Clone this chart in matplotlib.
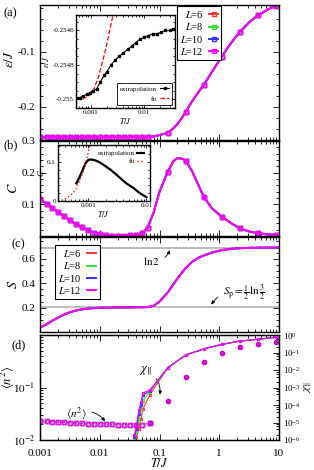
import math
import matplotlib
matplotlib.use('Agg')
import matplotlib.pyplot as plt
import matplotlib.ticker as ticker

plt.rcParams['font.family'] = 'serif'
plt.rcParams['font.serif'] = ['Liberation Serif', 'DejaVu Serif']
plt.rcParams['mathtext.fontset'] = 'stix'
plt.rcParams['axes.unicode_minus'] = False
plt.rcParams['font.size'] = 8

sizes = [6, 8, 10, 12]
colors = ['#ff3030', '#30e030', '#3030ff', '#ff00ff']

# temperature grid shared by panels (a)-(c)
T_grid = [0.001, 0.0013, 0.0016, 0.002, 0.0025, 0.0032, 0.004, 0.005, 0.0063, 0.008,
          0.01, 0.0126, 0.016, 0.02, 0.025, 0.032, 0.04, 0.05, 0.063, 0.08,
          0.1, 0.1375, 0.17, 0.2, 0.24, 0.275, 0.35, 0.45, 0.55, 0.75,
          1.1, 1.6, 2.2, 3.2, 4.4, 6.5, 8.8, 10]
mark_idx = list(range(19)) + [21, 25, 28, 30, 32, 34, 36]

energy = [-0.25499, -0.25495, -0.2549, -0.25484, -0.2548, -0.25475, -0.25472, -0.2547,
          -0.25468, -0.25465, -0.25464, -0.25463, -0.25462, -0.25461, -0.2546, -0.2546,
          -0.2546, -0.2546, -0.2545, -0.2535, -0.251, -0.2467, -0.239, -0.231, -0.219,
          -0.209, -0.19, -0.173, -0.16, -0.137, -0.1085, -0.083, -0.064, -0.046, -0.034,
          -0.023, -0.0164, -0.0145]

heat = [0.116, 0.101, 0.089, 0.076, 0.063, 0.049, 0.037, 0.027, 0.018, 0.011,
        0.006, 0.003, 0.0015, 0.001, 0.001, 0.002, 0.004, 0.008, 0.025, 0.075,
        0.14, 0.203, 0.236, 0.246, 0.244, 0.238, 0.205, 0.16, 0.124, 0.088,
        0.061, 0.04, 0.024, 0.014, 0.009, 0.005, 0.004, 0.003]

entropy = [0.035, 0.065, 0.092, 0.118, 0.142, 0.163, 0.176, 0.186, 0.192, 0.196,
           0.199, 0.2, 0.201, 0.202, 0.202, 0.202, 0.203, 0.203, 0.205, 0.215,
           0.25, 0.325, 0.39, 0.44, 0.49, 0.525, 0.575, 0.61, 0.628, 0.652,
           0.672, 0.683, 0.688, 0.691, 0.692, 0.693, 0.693, 0.693]

# inset (a)
T_ins_a = [0.00056, 0.00063, 0.00073, 0.00084, 0.00097, 0.0011, 0.0013, 0.0015, 0.0018,
           0.002, 0.0024, 0.0029, 0.0034, 0.0041, 0.0049, 0.0059, 0.007, 0.0084, 0.01,
           0.012, 0.0145, 0.0173, 0.0207, 0.0248, 0.03, 0.035]
e_ins_a = [-0.25499, -0.25499, -0.25498, -0.25497, -0.25496, -0.25495, -0.25494, -0.2549,
           -0.25486, -0.25484, -0.2548, -0.25477, -0.25475, -0.25473, -0.25471, -0.25469,
           -0.25467, -0.25465, -0.25464, -0.25463, -0.25462, -0.25462, -0.25461, -0.2546,
           -0.2546, -0.25459]
T_fit_a = [0.00053, 0.0007, 0.0009, 0.001, 0.00112, 0.00125, 0.0014, 0.0016, 0.0018,
           0.002, 0.0022, 0.0025, 0.0028]
e_fit_a = [-0.255, -0.255, -0.25498, -0.25497, -0.25495, -0.25491, -0.25487, -0.2548,
           -0.25474, -0.25468, -0.25462, -0.25454, -0.25446]

# inset (b)
T_ins_b = [0.00062, 0.0007, 0.0008, 0.0009, 0.001, 0.00114, 0.0013, 0.0015, 0.0018,
           0.0021, 0.0024, 0.003, 0.0037, 0.0045, 0.006, 0.0075, 0.01]
c_ins_b = [0.045, 0.06, 0.08, 0.097, 0.105, 0.106, 0.104, 0.1, 0.093, 0.086, 0.08,
           0.068, 0.056, 0.045, 0.033, 0.021, 0.0095]
T_fit_b = [0.0003, 0.00035, 0.0004, 0.00045, 0.0005, 0.0006, 0.0007, 0.0008, 0.0009,
           0.001, 0.00106]
c_fit_b = [0.0, 0.002, 0.005, 0.01, 0.015, 0.028, 0.05, 0.072, 0.097, 0.125, 0.142]

# panel (d)
T_n2 = [0.001, 0.0013, 0.0016, 0.002, 0.0025, 0.0032, 0.004, 0.005, 0.0063, 0.008,
        0.01, 0.0126, 0.016, 0.02, 0.025, 0.032, 0.04, 0.05, 0.06875]
n2_low = [0.0233, 0.0228, 0.0224, 0.022, 0.0217, 0.0214, 0.0211, 0.0208, 0.0205, 0.0203,
          0.0201, 0.0199, 0.0198, 0.0197, 0.0196, 0.0195, 0.0195, 0.0196, 0.021]
T_n2_high = [0.06875, 0.1375, 0.275, 0.55, 1.1, 2.2, 4.4, 8.8]
n2_high = [0.021, 0.055, 0.16, 0.31, 0.46, 0.58, 0.68, 0.72]

T_chi = [0.038, 0.041, 0.045, 0.049, 0.053, 0.06875, 0.1375, 0.275, 0.55, 1.1, 2.2, 4.4, 8.8]
chi_by_L = {
    6: [1e-6, 1.5e-6, 4e-6, 1.5e-5, 6e-5, 3.7e-4, 0.0135, 0.072, 0.16, 0.29, 0.45, 0.57, 0.74],
    8: [1e-6, 2.5e-6, 1.2e-5, 5e-5, 1.8e-4, 5.7e-4, 0.0135, 0.072, 0.16, 0.29, 0.45, 0.57, 0.74],
    10: [1.5e-6, 4e-6, 3e-5, 1e-4, 3.5e-4, 6.5e-4, 0.0135, 0.072, 0.16, 0.29, 0.45, 0.57, 0.74],
    12: [2e-6, 6e-6, 5e-5, 1.5e-4, 5e-4, 7e-4, 0.0135, 0.072, 0.16, 0.29, 0.45, 0.57, 0.74],
}

W, H = 314, 470
fig = plt.figure(figsize=(W / 100, H / 100), dpi=100)


def rect(x0, y0, x1, y1):
    return [x0 / W, 1 - y1 / H, (x1 - x0) / W, (y1 - y0) / H]


def style(ax):
    ax.tick_params(which='both', direction='in', top=True, right=True, width=0.6)
    ax.tick_params(which='major', length=4)
    ax.tick_params(which='minor', length=2)
    for s in ax.spines.values():
        s.set_linewidth(1.0)


def xaxis_main(ax, labels=False):
    ax.set_xscale('log')
    ax.set_xlim(0.001, 10)
    ax.xaxis.set_major_locator(ticker.LogLocator(base=10, numticks=10))
    ax.xaxis.set_minor_locator(ticker.LogLocator(base=10, subs=range(2, 10), numticks=10))
    if labels:
        ax.xaxis.set_major_formatter(ticker.FuncFormatter(lambda v, p: '%g' % v))
    else:
        ax.xaxis.set_major_formatter(ticker.NullFormatter())
    ax.xaxis.set_minor_formatter(ticker.NullFormatter())


def arrow(rad):
    return dict(arrowstyle='-|>', color='k', lw=0.6, mutation_scale=5,
                connectionstyle='arc3,rad=%g' % rad)


ax_a = fig.add_axes(rect(40, 5, 279, 140))
ax_b = fig.add_axes(rect(40, 141, 279, 236))
ax_c = fig.add_axes(rect(40, 237, 279, 332))
ax_d = fig.add_axes(rect(40, 335, 279, 440))

# (a) energy
for L, c in zip(sizes, colors):
    ax_a.plot(T_grid, energy, color=c, lw=1.4, marker='s', ms=2.5, mfc='none', mew=1.0,
              markevery=mark_idx, label=r'$L$=%d' % L)
xaxis_main(ax_a)
ax_a.set_ylim(-0.26, -0.015)
ax_a.yaxis.set_major_locator(ticker.FixedLocator([-0.1, -0.2]))
ax_a.yaxis.set_minor_locator(ticker.MultipleLocator(0.02))
ax_a.set_ylabel(r'$\varepsilon/J$', fontsize=9.5)
ax_a.yaxis.set_label_coords(-0.1, 0.6)
style(ax_a)
leg = ax_a.legend(loc='upper left', bbox_to_anchor=(0.573, 0.993), borderaxespad=0,
                  fontsize=7.5, markerfirst=False, handlelength=0.9, handletextpad=0.5,
                  borderpad=0.3, labelspacing=0.12, fancybox=False, edgecolor='black',
                  framealpha=1)
leg.get_frame().set_linewidth(0.8)

ins_a = fig.add_axes(rect(76, 15, 175, 108))
ins_a.plot(T_fit_a, e_fit_a, color='red', ls='--', lw=0.9, label='fit')
ins_a.plot(T_ins_a, e_ins_a, color='black', lw=0.8, marker='s', ms=1.8, label='extrapolation')
ins_a.set_xscale('log')
ins_a.set_xlim(0.00053, 0.038)
ins_a.set_ylim(-0.25505, -0.25451)
ins_a.yaxis.set_major_locator(ticker.FixedLocator([-0.2546, -0.2548, -0.255]))
ins_a.yaxis.set_major_formatter(ticker.FuncFormatter(lambda v, p: '%g' % round(v, 5)))
ins_a.xaxis.set_major_locator(ticker.FixedLocator([0.001, 0.01]))
ins_a.xaxis.set_major_formatter(ticker.FuncFormatter(lambda v, p: '%g' % v))
ins_a.xaxis.set_minor_locator(ticker.LogLocator(base=10, subs=range(2, 10), numticks=10))
ins_a.xaxis.set_minor_formatter(ticker.NullFormatter())
ins_a.yaxis.set_minor_locator(ticker.MultipleLocator(0.00005))
ins_a.tick_params(labelsize=5, pad=1.5)
style(ins_a)
ins_a.tick_params(which='major', length=2.5)
ins_a.tick_params(which='minor', length=1.2)
ins_a.set_xlabel(r'$T/J$', fontsize=6, labelpad=1)
ins_a.set_ylabel(r'$\varepsilon/J$', fontsize=6, labelpad=1)
h, l = ins_a.get_legend_handles_labels()
lg = ins_a.legend(h[::-1], l[::-1], loc='lower right', fontsize=5, markerfirst=False,
                  handlelength=1.2, handletextpad=0.5, borderpad=0.4, labelspacing=0.6,
                  fancybox=False, edgecolor='black', framealpha=1)
lg.get_frame().set_linewidth(0.6)

# (b) specific heat
for L, c in zip(sizes, colors):
    ax_b.plot(T_grid, heat, color=c, lw=1.4, marker='s', ms=2.5, mfc='none', mew=1.0,
              markevery=mark_idx)
xaxis_main(ax_b)
ax_b.set_ylim(0, 0.3)
ax_b.yaxis.set_major_locator(ticker.FixedLocator([0.1, 0.2, 0.3]))
ax_b.yaxis.set_minor_locator(ticker.MultipleLocator(0.02))
ax_b.set_ylabel(r'$C$', fontsize=10)
ax_b.yaxis.set_label_coords(-0.085, 0.5)
style(ax_b)

ins_b = fig.add_axes(rect(58, 145, 150, 201))
ins_b.plot(T_ins_b, c_ins_b, color='black', lw=1.6, label='extrapolation')
ins_b.plot(T_fit_b, c_fit_b, color='red', ls=':', lw=1.0, label='fit')
ins_b.set_xscale('log')
ins_b.set_xlim(0.0003, 0.0115)
ins_b.set_ylim(0, 0.143)
ins_b.yaxis.set_major_locator(ticker.FixedLocator([0, 0.1]))
ins_b.yaxis.set_major_formatter(ticker.FuncFormatter(lambda v, p: '%g' % v))
ins_b.yaxis.set_minor_locator(ticker.MultipleLocator(0.02))
ins_b.xaxis.set_major_locator(ticker.FixedLocator([0.001, 0.01]))
ins_b.xaxis.set_major_formatter(ticker.FuncFormatter(lambda v, p: '%g' % v))
ins_b.xaxis.set_minor_locator(ticker.LogLocator(base=10, subs=range(2, 10), numticks=10))
ins_b.xaxis.set_minor_formatter(ticker.NullFormatter())
ins_b.tick_params(labelsize=5, pad=1.5)
style(ins_b)
ins_b.tick_params(which='major', length=2.5)
ins_b.tick_params(which='minor', length=1.2)
ins_b.set_xlabel(r'$T/J$', fontsize=6, labelpad=1)
ins_b.set_ylabel(r'$C$', fontsize=6, labelpad=1)
ins_b.legend(loc='upper right', fontsize=5, markerfirst=False, handlelength=1.0,
             handletextpad=0.4, borderpad=0.3, labelspacing=0.3, frameon=False)

# (c) entropy
ax_c.axhline(0.6931, color='#b0b0b0', lw=1.2)
ax_c.axhline(0.2027, color='#b0b0b0', lw=1.2)
for L, c in zip(sizes, colors):
    ax_c.plot(T_grid, entropy, color=c, lw=1.4, label=r'$L$=%d' % L)
xaxis_main(ax_c)
ax_c.set_ylim(0, 0.78)
ax_c.yaxis.set_major_locator(ticker.FixedLocator([0.2, 0.4, 0.6]))
ax_c.yaxis.set_minor_locator(ticker.MultipleLocator(0.05))
ax_c.set_ylabel(r'$S$', fontsize=10)
ax_c.yaxis.set_label_coords(-0.085, 0.5)
style(ax_c)
leg = ax_c.legend(loc='upper left', bbox_to_anchor=(0.063, 0.916), borderaxespad=0,
                  fontsize=7.5, markerfirst=False, handlelength=0.9, handletextpad=0.5,
                  borderpad=0.3, labelspacing=0.12, fancybox=False, edgecolor='black',
                  framealpha=1)
leg.get_frame().set_linewidth(0.8)
ax_c.annotate(r'$\ln 2$', xy=(0.155, 0.693), xytext=(0.052, 0.55), fontsize=8,
              arrowprops=arrow(0.4))
ax_c.annotate(r'$S_{\rm p}=\frac{1}{2}\ln\frac{3}{2}$', xy=(0.7, 0.205), xytext=(1.15, 0.3),
              fontsize=8, arrowprops=arrow(0.4))

# (d) <n^2> and chi
ax_d2 = ax_d.twinx()
for L, c in zip(sizes, colors):
    ax_d.plot(T_n2, n2_low, color=c, lw=0.8, ls=':', marker='s', ms=2.3, mfc='none', mew=0.9)
    ax_d2.plot(T_chi, chi_by_L[L], color=c, lw=0.8, marker='s', ms=2.0, mfc='none', mew=0.8)
ax_d.plot(T_n2_high, n2_high, ls='none', marker='o', ms=3.0, color='#ff00ff', mec='#c000c0')
xaxis_main(ax_d, labels=True)
ax_d.set_yscale('log')
ax_d.set_ylim(0.01, 1)
ax_d.yaxis.set_major_locator(ticker.FixedLocator([0.01, 0.1, 1]))
ax_d.yaxis.set_major_formatter(ticker.FuncFormatter(
    lambda v, p: '' if v > 0.5 else r'$10^{%d}$' % round(math.log10(v))))
ax_d.yaxis.set_minor_locator(ticker.LogLocator(base=10, subs=range(2, 10), numticks=10))
ax_d.yaxis.set_minor_formatter(ticker.NullFormatter())
ax_d.set_ylabel(r'$\langle n^2\rangle$', fontsize=9)
ax_d.yaxis.set_label_coords(-0.096, 0.6)
ax_d.set_xlabel(r'$T/J$', fontsize=9, labelpad=-1)
ax_d2.set_yscale('log')
ax_d2.set_ylim(1e-6, 1)
ax_d2.yaxis.set_major_locator(ticker.LogLocator(base=10, numticks=10))
ax_d2.yaxis.set_minor_locator(ticker.LogLocator(base=10, subs=[2, 4, 6, 8], numticks=10))
ax_d2.yaxis.set_minor_formatter(ticker.NullFormatter())
ax_d2.set_ylabel(r'$\chi_{\|}$', fontsize=8.5, rotation=90)
ax_d2.yaxis.set_label_coords(1.097, 0.5)
style(ax_d)
ax_d.tick_params(axis='y', right=False, which='both')
ax_d.tick_params(axis='x', pad=6.5)
ax_d2.tick_params(which='both', direction='in', width=0.6, labelsize=6.3, pad=3)
ax_d2.tick_params(which='major', length=4)
ax_d2.tick_params(which='minor', length=2)
ax_d.annotate(r'$\langle n^2\rangle$', xy=(0.013, 0.0205), xytext=(0.0027, 0.028), fontsize=8,
              arrowprops=arrow(-0.4))
ax_d.annotate(r'$\chi_{\|}$', xy=(0.1, 0.065), xytext=(0.045, 0.2), fontsize=9,
              arrowprops=arrow(-0.4))

for lab, (x, y) in zip(['(a)', '(b)', '(c)', '(d)'], [(3, 16), (3, 148), (11, 247), (11, 348)]):
    fig.text(x / W, 1 - y / H, lab, fontsize=9)

fig.savefig('out.png', dpi=100)
